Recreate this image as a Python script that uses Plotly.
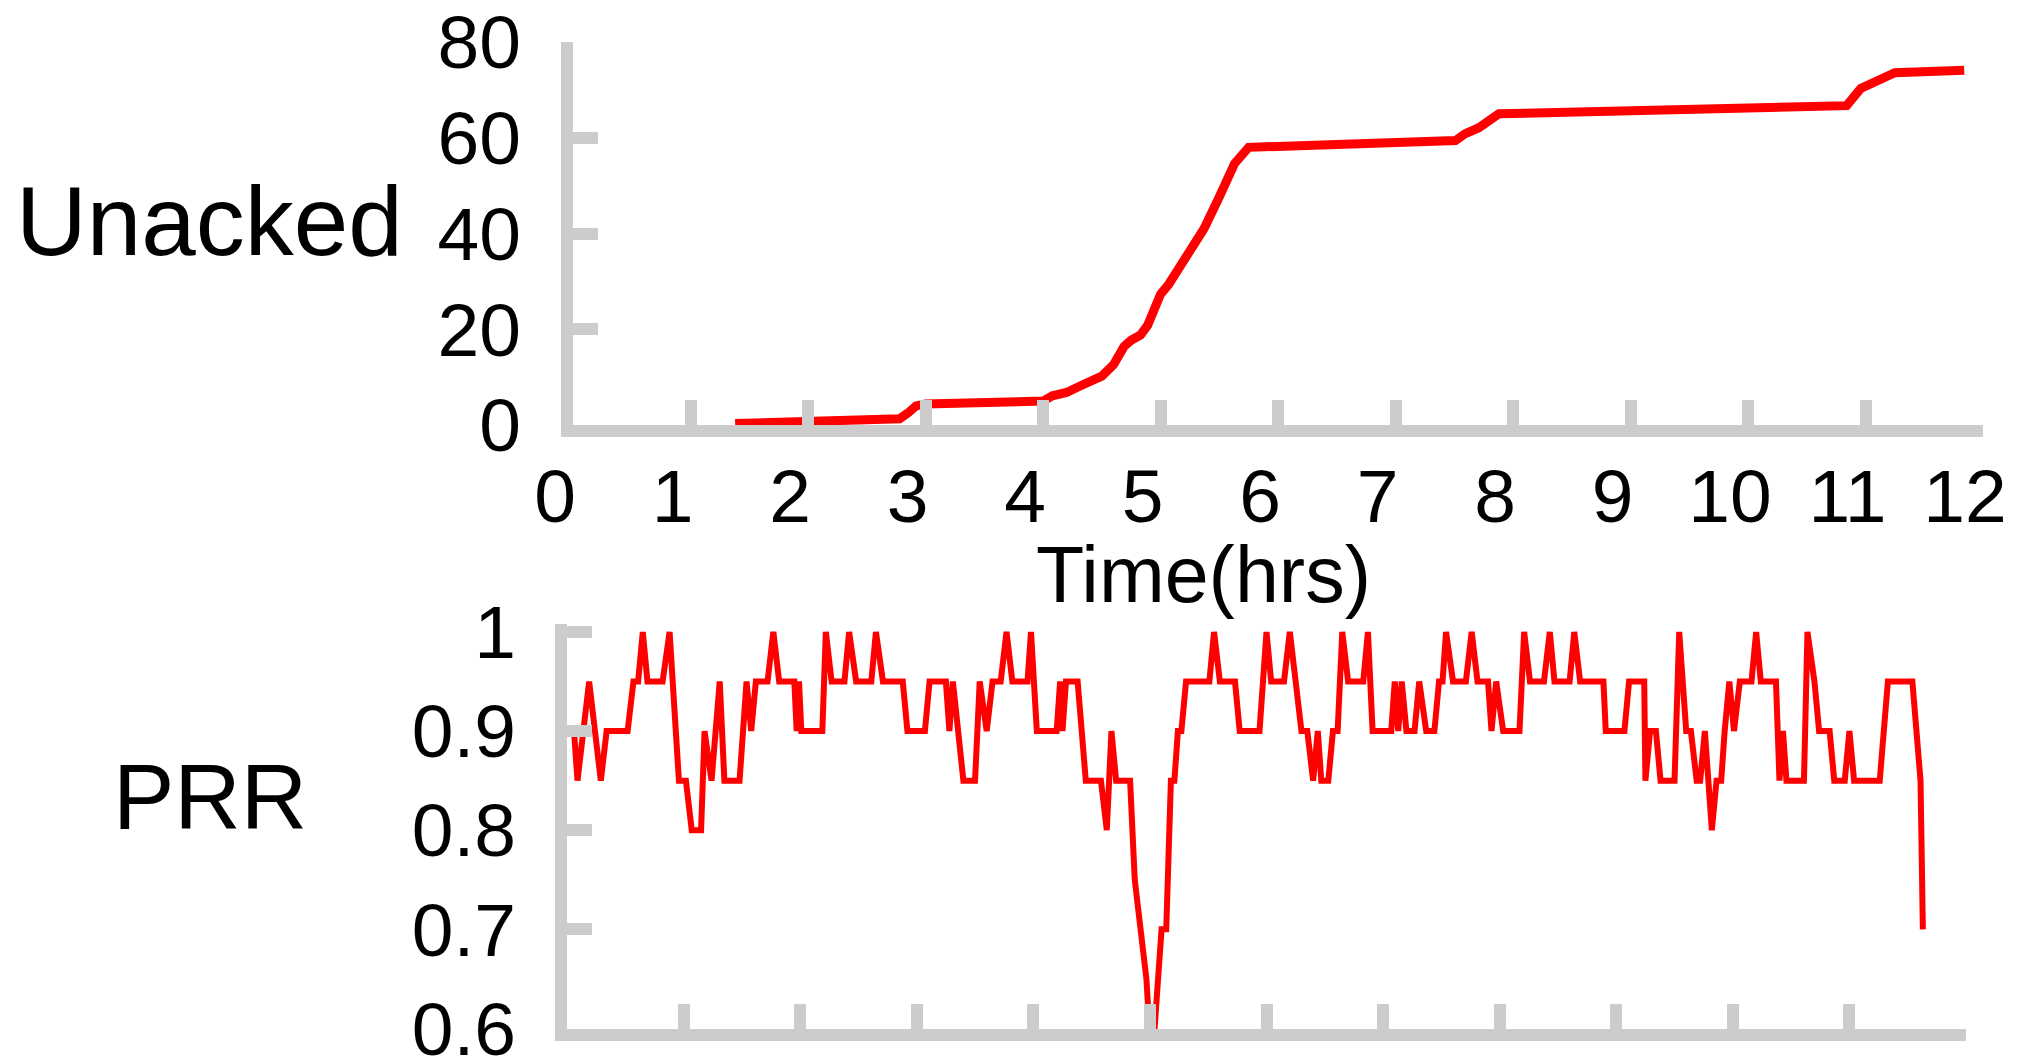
import plotly.graph_objects as go

# ---- data ----
unacked_hours = [1.38, 2.0, 2.78, 2.85, 2.92, 3.0, 4.0, 4.08, 4.2, 4.32, 4.5, 4.6, 4.69, 4.75,
                 4.83, 4.89, 5.0, 5.07, 5.21, 5.29, 5.37, 5.49, 5.59, 5.63, 5.75, 6.0, 7.51,
                 7.59, 7.71, 7.88, 8.95, 10.51, 10.84, 10.96, 11.04, 11.13, 11.25, 11.84]
unacked_vals = [0.3, 0.6, 1.3, 2.5, 4.0, 4.4, 5.0, 6.1, 6.8, 8.2, 10.2, 12.6, 16.4, 17.7,
                18.8, 20.8, 27.3, 29.4, 34.8, 37.5, 41.0, 47.1, 53.2, 54.6, 58.0, 58.2, 59.4,
                60.8, 62.1, 65.0, 65.5, 66.2, 66.7, 70.3, 71.3, 72.0, 73.6, 74.1]

prr_hours = [0.06, 0.09, 0.14, 0.19, 0.29, 0.34, 0.52, 0.57, 0.61, 0.65, 0.69, 0.82, 0.88, 0.96,
             1.02, 1.07, 1.15, 1.18, 1.24, 1.31, 1.35, 1.48, 1.51, 1.54, 1.58, 1.62, 1.72, 1.77,
             1.82, 1.95, 1.97, 1.99, 2.01, 2.19, 2.22, 2.27, 2.38, 2.42, 2.48, 2.61, 2.65, 2.71,
             2.88, 2.92, 3.07, 3.11, 3.25, 3.28, 3.31, 3.35, 3.40, 3.50, 3.54, 3.60, 3.65, 3.72,
             3.77, 3.82, 3.95, 3.98, 4.03, 4.20, 4.23, 4.25, 4.28, 4.38, 4.41, 4.45, 4.58, 4.63,
             4.67, 4.71, 4.83, 4.85, 4.87, 4.97, 5.00, 5.02, 5.04, 5.10, 5.14, 5.18, 5.21, 5.24,
             5.27, 5.31, 5.51, 5.55, 5.60, 5.73, 5.77, 5.94, 6.00, 6.04, 6.15, 6.20, 6.25, 6.30,
             6.35, 6.40, 6.44, 6.47, 6.53, 6.57, 6.61, 6.65, 6.70, 6.83, 6.87, 6.91, 7.07, 7.10,
             7.13, 7.16, 7.20, 7.27, 7.31, 7.37, 7.44, 7.48, 7.51, 7.54, 7.60, 7.71, 7.76, 7.81,
             7.90, 7.93, 7.97, 8.03, 8.17, 8.21, 8.26, 8.38, 8.43, 8.47, 8.60, 8.64, 8.69, 8.89,
             8.91, 9.07, 9.11, 9.24, 9.25, 9.29, 9.34, 9.38, 9.50, 9.54, 9.60, 9.64, 9.69, 9.72,
             9.76, 9.82, 9.86, 9.90, 9.93, 9.97, 10.01, 10.06, 10.16, 10.20, 10.24, 10.37, 10.40,
             10.43, 10.46, 10.61, 10.64, 10.70, 10.74, 10.83, 10.87, 10.96, 11.00, 11.04, 11.26,
             11.29, 11.33, 11.54, 11.61, 11.63]
prr_vals = [0.90, 0.85, 0.90, 0.95, 0.85, 0.90, 0.90, 0.95, 0.95, 1.00, 0.95, 0.95, 1.00, 0.85,
            0.85, 0.80, 0.80, 0.90, 0.85, 0.95, 0.85, 0.85, 0.90, 0.95, 0.90, 0.95, 0.95, 1.00,
            0.95, 0.95, 0.90, 0.95, 0.90, 0.90, 1.00, 0.95, 0.95, 1.00, 0.95, 0.95, 1.00, 0.95,
            0.95, 0.90, 0.90, 0.95, 0.95, 0.90, 0.95, 0.90, 0.85, 0.85, 0.95, 0.90, 0.95, 0.95,
            1.00, 0.95, 0.95, 1.00, 0.90, 0.90, 0.95, 0.90, 0.95, 0.95, 0.90, 0.85, 0.85, 0.80,
            0.90, 0.85, 0.85, 0.80, 0.75, 0.65, 0.60, 0.55, 0.60, 0.70, 0.70, 0.85, 0.85, 0.90,
            0.90, 0.95, 0.95, 1.00, 0.95, 0.95, 0.90, 0.90, 1.00, 0.95, 0.95, 1.00, 0.95, 0.90,
            0.90, 0.85, 0.90, 0.85, 0.85, 0.90, 0.90, 1.00, 0.95, 0.95, 1.00, 0.90, 0.90, 0.95,
            0.90, 0.95, 0.90, 0.90, 0.95, 0.90, 0.90, 0.95, 0.95, 1.00, 0.95, 0.95, 1.00, 0.95,
            0.95, 0.90, 0.95, 0.90, 0.90, 1.00, 0.95, 0.95, 1.00, 0.95, 0.95, 1.00, 0.95, 0.95,
            0.90, 0.90, 0.95, 0.95, 0.85, 0.90, 0.90, 0.85, 0.85, 1.00, 0.90, 0.90, 0.85, 0.85,
            0.90, 0.80, 0.85, 0.85, 0.90, 0.95, 0.90, 0.95, 0.95, 1.00, 0.95, 0.95, 0.85,
            0.90, 0.85, 0.85, 1.00, 0.95, 0.90, 0.90, 0.85, 0.85, 0.90, 0.85, 0.85,
            0.90, 0.95, 0.95, 0.85, 0.70]

hour_ticks = list(range(0, 13))
hour_labels = [str(h) for h in hour_ticks]
unacked_ticks = [0, 20, 40, 60, 80]
prr_ticks = [0.6, 0.7, 0.8, 0.9, 1.0]
prr_labels = ["0.6", "0.7", "0.8", "0.9", "1"]

W, H = 2017, 1064
GREY = "#cccccc"
RED = "#ff0000"
FONT = "Liberation Sans, Arial, Helvetica, sans-serif"

fig = go.Figure()
fig.add_trace(go.Scatter(x=unacked_hours, y=unacked_vals, mode="lines",
                         line=dict(color=RED, width=9), xaxis="x", yaxis="y",
                         showlegend=False, hoverinfo="skip"))
fig.add_trace(go.Scatter(x=prr_hours, y=prr_vals, mode="lines",
                         line=dict(color=RED, width=6), xaxis="x2", yaxis="y2",
                         showlegend=False, hoverinfo="skip"))

axis_common = dict(showline=True, linecolor=GREY, linewidth=12, ticks="inside",
                   ticklen=25, tickwidth=12, tickcolor=GREY, showgrid=False,
                   zeroline=False, fixedrange=True, automargin=False,
                   ticklabeloverflow="allow",
                   tickfont=dict(family=FONT, size=75, color="black"))

def px_x(p):
    return p / W

def px_y(p):
    return 1 - p / H

fig.update_layout(
    width=W, height=H,
    margin=dict(l=0, r=0, t=0, b=0, pad=0, autoexpand=False),
    paper_bgcolor="white", plot_bgcolor="white",
    xaxis=dict(axis_common, domain=[px_x(573), px_x(1983)], range=[0, 12],
               tickmode="array", tickvals=hour_ticks, ticktext=hour_labels,
               anchor="y", ticklabelstandoff=-5, ticklabelshift=-18),
    yaxis=dict(axis_common, domain=[px_y(425), px_y(42)], range=[0, 80],
               tickmode="array", tickvals=unacked_ticks,
               anchor="x", ticklabelstandoff=25),
    xaxis2=dict(axis_common, domain=[px_x(567), px_x(1966)], range=[0, 12],
                tickmode="array", tickvals=hour_ticks, showticklabels=False,
                anchor="y2"),
    yaxis2=dict(axis_common, domain=[px_y(1029), px_y(624)], range=[0.5995, 1.008],
                tickmode="array", tickvals=prr_ticks, ticktext=prr_labels,
                anchor="x2", ticklabelstandoff=24),
    annotations=[
        dict(text="Unacked", x=px_x(209), y=px_y(221), xref="paper", yref="paper",
             xanchor="center", yanchor="middle", showarrow=False,
             font=dict(family=FONT, size=98, color="black")),
        dict(text="PRR", x=px_x(210), y=px_y(797), xref="paper", yref="paper",
             xanchor="center", yanchor="middle", showarrow=False,
             font=dict(family=FONT, size=92, color="black")),
        dict(text="Time(hrs)", x=px_x(1203), y=px_y(574), xref="paper", yref="paper",
             xanchor="center", yanchor="middle", showarrow=False,
             font=dict(family=FONT, size=79, color="black")),
    ],
)

fig.write_html("out.html")
